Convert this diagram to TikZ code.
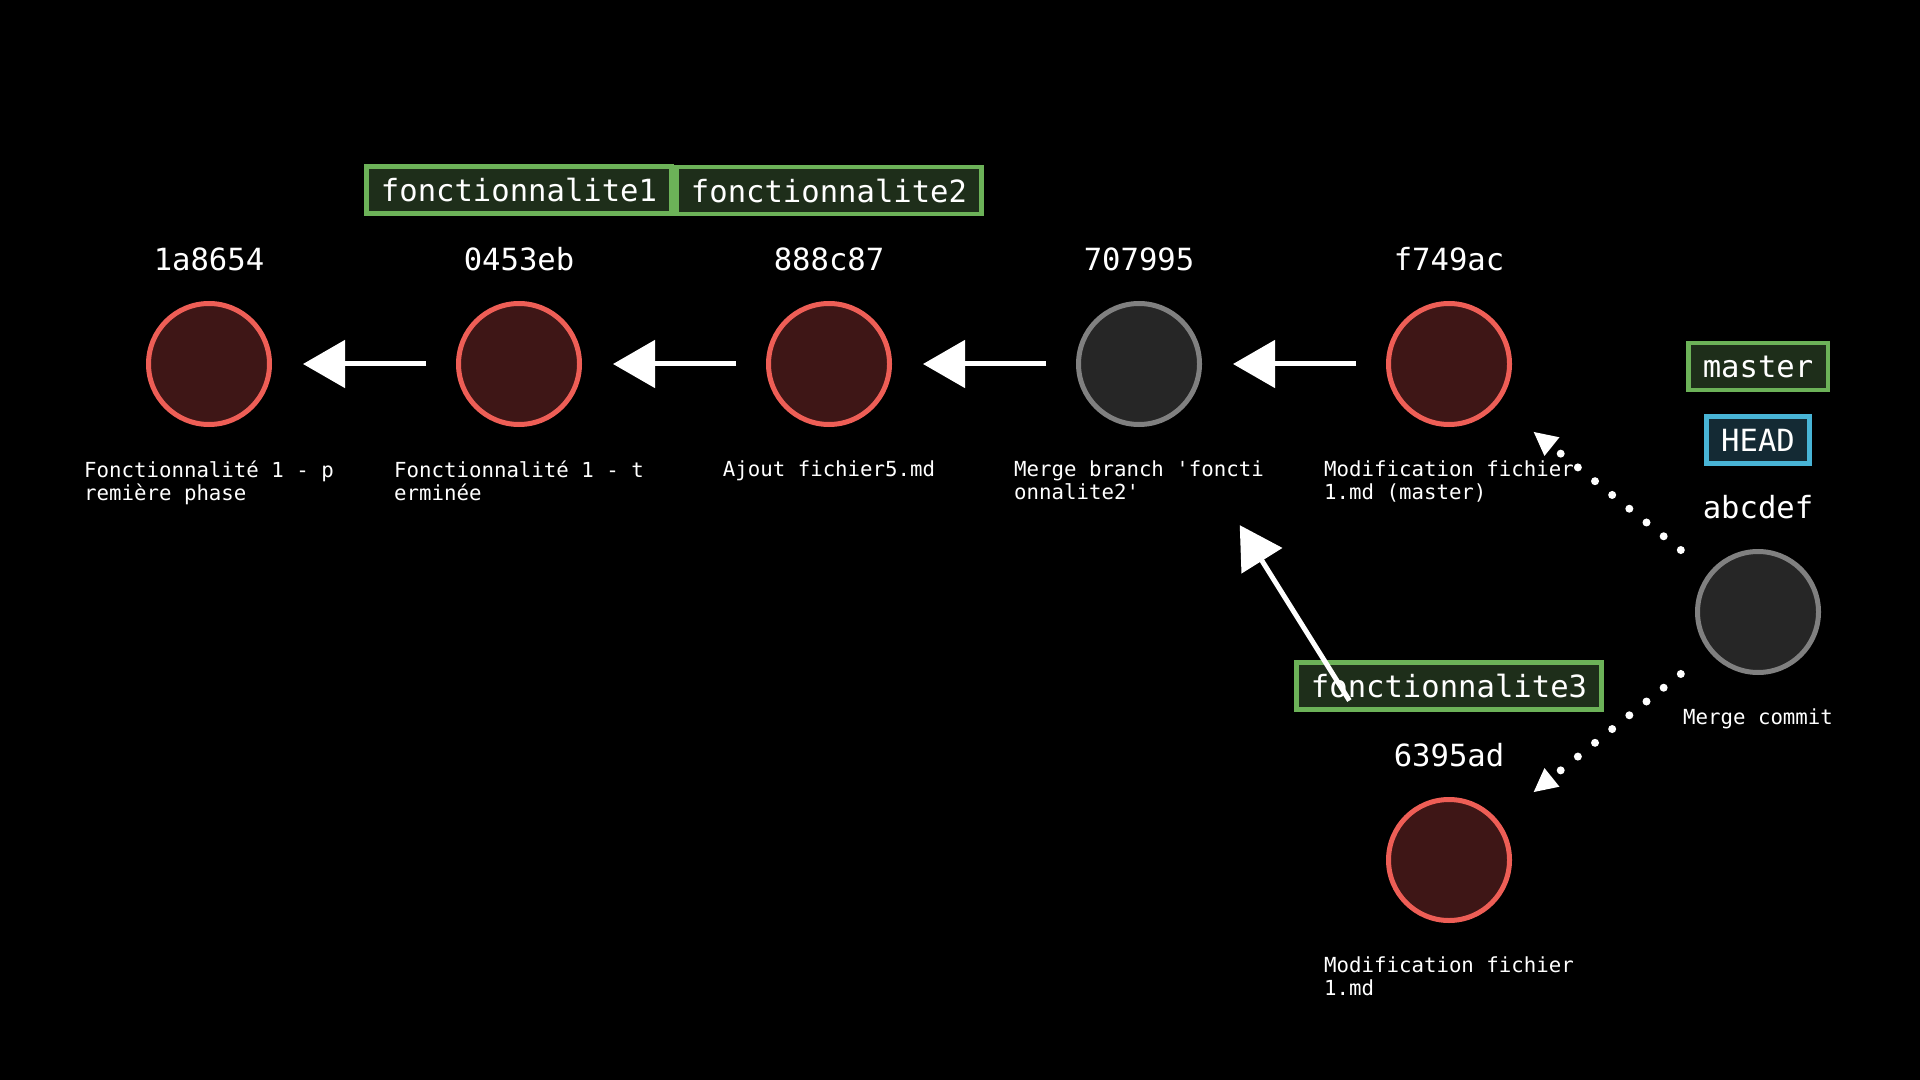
\documentclass[tikz,border=0pt]{standalone}
\usepackage{fontspec}
\setmonofont{DejaVu Sans Mono}
\definecolor{commitred}{RGB}{238,94,86}
\definecolor{commitfill}{RGB}{62,22,22}
\definecolor{mergegray}{RGB}{128,128,128}
\definecolor{mergefill}{RGB}{38,38,38}
\definecolor{branchgreen}{RGB}{108,178,88}
\definecolor{branchfill}{RGB}{30,46,26}
\definecolor{headblue}{RGB}{72,180,214}
\definecolor{headfill}{RGB}{20,42,52}
\tikzset{every picture/.style={/utils/exec={\ttfamily}}}
\usetikzlibrary{calc}
\usetikzlibrary{positioning}
\usetikzlibrary{arrows.meta}

\tikzset{
  commit/.style={circle, draw=commitred, fill=commitfill, line width=0.05cm, minimum size=1.21cm, inner sep=0},
  merge/.style={commit, draw=mergegray, fill=mergefill},
  hash/.style={text=white, inner sep=0, font=\fontsize{8.7}{10}\selectfont},
  msg/.style={text=white, inner sep=0, align=left, font=\fontsize{5.9}{6.6}\selectfont},
  branch/.style={draw=branchgreen, fill=branchfill, text=white, line width=0.045cm, inner xsep=0.145cm, inner ysep=0, minimum height=0.47cm, font=\fontsize{8.7}{10}\selectfont},
  head/.style={branch, draw=headblue, fill=headfill},
  parent/.style={draw=white, line width=0.05cm, -{Triangle[length=0.42cm, width=0.47cm]}, shorten <=0.3cm, shorten >=0.31cm},
  dotparent/.style={draw=white, line width=0.08cm, line cap=round, dash pattern=on 0pt off 0.22cm, -{Triangle[length=0.24cm, width=0.22cm]}, shorten <=0.36cm, shorten >=0.45cm}
}

\begin{document}
\begin{tikzpicture}
  \fill [black] (0,0) rectangle (19.2,-10.8);
  \useasboundingbox (0,0) rectangle (19.2,-10.8);

  % commits
  \node [commit] (c1) at (2.09, -3.64) {};
  \node [commit] (c2) at (5.19, -3.64) {};
  \node [commit] (c3) at (8.29, -3.64) {};
  \node [merge] (c4) at (11.39, -3.64) {};
  \node [commit] (c5) at (14.49, -3.64) {};
  \node [commit] (c6) at (14.49, -8.60) {};
  \node [merge] (c7) at (17.58, -6.12) {};

  \node [hash, above=0.29cm of c1] (h1) {1a8654};
  \node [hash, above=0.29cm of c2] (h2) {0453eb};
  \node [hash, above=0.29cm of c3] (h3) {888c87};
  \node [hash, above=0.29cm of c4] (h4) {707995};
  \node [hash, above=0.29cm of c5] (h5) {f749ac};
  \node [hash, above=0.29cm of c6] (h6) {6395ad};
  \node [hash, above=0.29cm of c7] (h7) {abcdef};

  \node [msg, below=0.33cm of c1] (m1) {Fonctionnalité 1 - p\\remière phase};
  \node [msg, below=0.33cm of c2] (m2) {Fonctionnalité 1 - t\\erminée};
  \node [msg, below=0.33cm of c3] (m3) {Ajout fichier5.md};
  \node [msg, below=0.33cm of c4] (m4) {Merge branch 'foncti\\onnalite2'};
  \node [msg, below=0.33cm of c5] (m5) {Modification fichier\\1.md (master)};
  \node [msg, below=0.33cm of c6] (m6) {Modification fichier\\1.md};
  \node [msg, below=0.33cm of c7] (m7) {Merge commit};

  % branches
  \node [branch, above=0.31cm of h2] (b1) {fonctionnalite1};
  \node [branch, above=0.31cm of h3] (b2) {fonctionnalite2};
  \node [branch, above=0.31cm of h6] (b3) {fonctionnalite3};
  \node [head, above=0.29cm of h7] (head) {HEAD};
  \node [branch, above=0.22cm of head] (master) {master};

  \draw [parent] (c2) -- (c1);
  \draw [parent] (c3) -- (c2);
  \draw [parent] (c4) -- (c3);
  \draw [parent] (c5) -- (c4);
  \draw [parent, shorten <=1.25cm, shorten >=1.27cm] (c6) -- (c4);
  \draw [dotparent] (c7) -- (c5);
  \draw [dotparent] (c7) -- (c6);

\end{tikzpicture}
\end{document}
